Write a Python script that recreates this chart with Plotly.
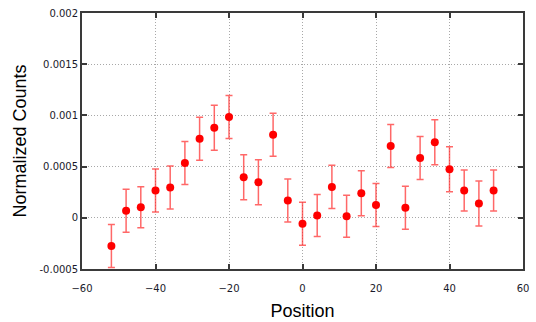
import plotly.graph_objects as go

positions = [-52, -48, -44, -40, -36, -32, -28, -24, -20, -16, -12, -8, -4, 0,
             4, 8, 12, 16, 20, 24, 28, 32, 36, 40, 44, 48, 52]
counts = [-0.000276, 0.000068, 0.000104, 0.000267, 0.000296, 0.000536, 0.000773,
          0.00088, 0.000984, 0.000396, 0.000348, 0.000812, 0.000169, -0.000058,
          0.000023, 0.000302, 0.000014, 0.00024, 0.000124, 0.000701, 0.000097,
          0.000584, 0.000737, 0.000474, 0.000267, 0.00014, 0.000267]
errors = [0.00021, 0.00021, 0.0002, 0.00021, 0.00021, 0.00021, 0.00021,
          0.00022, 0.00021, 0.00022, 0.00022, 0.00021, 0.00021, 0.00021,
          0.000205, 0.00021, 0.000205, 0.00022, 0.00021, 0.00021, 0.00021,
          0.00021, 0.00022, 0.00022, 0.0002, 0.00022, 0.0002]

x_ticks = [-60, -40, -20, 0, 20, 40, 60]
y_ticks = [-0.0005, 0, 0.0005, 0.001, 0.0015, 0.002]
y_tick_labels = ["-0.0005", "0", "0.0005", "0.001", "0.0015", "0.002"]

fig = go.Figure()
fig.add_trace(go.Scatter(
    x=positions, y=counts, mode="markers",
    marker=dict(color="#ff0000", size=8, line=dict(width=0)),
    error_y=dict(type="data", array=errors, visible=True,
                 color="rgba(255,40,40,0.7)", thickness=1.5, width=3.5),
    showlegend=False, cliponaxis=False,
))

axis_common = dict(
    showline=True, linecolor="#3a3a3a", linewidth=1.8, mirror="ticks",
    ticks="inside", ticklen=5, tickwidth=1.5, tickcolor="#3a3a3a",
    showgrid=True, gridcolor="#a8a8a8", griddash="1px,2px", gridwidth=1,
    zeroline=False, automargin=False,
    tickfont=dict(family="DejaVu Sans", size=10, color="#1a1a2a"),
)

fig.update_xaxes(range=[-60, 60], tickvals=x_ticks, ticklabelstandoff=9, **axis_common,
                 title=dict(text="Position", standoff=11,
                            font=dict(family="Liberation Sans", size=18, color="#000000")))
fig.update_yaxes(range=[-0.0005, 0.002], tickvals=y_ticks, ticktext=y_tick_labels,
                 **axis_common,
                 title=dict(text="Normalized Counts", standoff=8,
                            font=dict(family="Liberation Sans", size=18, color="#000000")))

fig.update_layout(
    width=536, height=322,
    margin=dict(l=82, r=13, t=13, b=53),
    paper_bgcolor="white", plot_bgcolor="white",
)

fig.write_html("out.html", config={"displayModeBar": False},
               post_script="document.body.style.margin='0px';document.body.style.overflow='hidden';")
